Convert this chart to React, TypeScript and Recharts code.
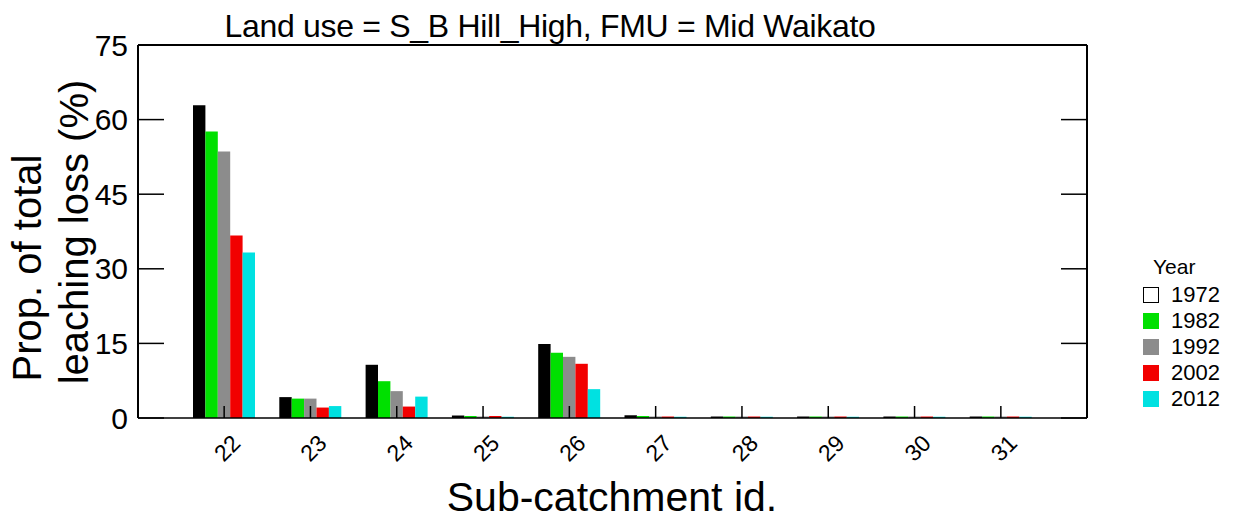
import { Bar, BarChart, Legend, ReferenceLine, XAxis, YAxis } from "recharts"

const subCatchments = ["22", "23", "24", "25", "26", "27", "28", "29", "30", "31"]
const years = ["1972", "1982", "1992", "2002", "2012"]
const yearColors = ["#000000", "#00e000", "#8c8c8c", "#f20000", "#00e1e1"]
const yTicks = [0, 15, 30, 45, 60, 75]

const y1972 = [62.9, 4.2, 10.7, 0.5, 14.9, 0.55, 0.3, 0.3, 0.3, 0.3]
const y1982 = [57.6, 3.9, 7.4, 0.4, 13.1, 0.4, 0.3, 0.3, 0.3, 0.3]
const y1992 = [53.6, 3.9, 5.4, 0.3, 12.3, 0.3, 0.3, 0.3, 0.3, 0.3]
const y2002 = [36.7, 2.1, 2.3, 0.4, 10.9, 0.3, 0.3, 0.3, 0.3, 0.3]
const y2012 = [33.3, 2.4, 4.3, 0.25, 5.8, 0.25, 0.25, 0.25, 0.25, 0.25]

const seriesValues = [y1972, y1982, y1992, y2002, y2012]

const data = subCatchments.map((id, i) => {
  const row: Record<string, string | number> = { id }
  years.forEach((y, k) => {
    row[y] = seriesValues[k][i]
  })
  return row
})

const FONT = "'Liberation Sans', Arial, sans-serif"
const W = 1234
const H = 520
const MARGIN = { top: 45, right: 147, left: 0, bottom: 0 }
const PLOT_RIGHT = W - MARGIN.right

function XTick({ x, y, payload }: any) {
  return (
    <text
      x={x + 3}
      y={y}
      transform={`rotate(-45, ${x + 3}, ${y})`}
      textAnchor="middle"
      dominantBaseline="central"
      fontSize={23}
      fontFamily={FONT}
      fill="#000"
    >
      {payload.value}
    </text>
  )
}

// label on the left plus the mirrored inward tick on the right border
function YTick({ x, y, payload }: any) {
  return (
    <g>
      <text x={x} y={y} textAnchor="end" dominantBaseline="central" fontSize={30} fontFamily={FONT} fill="#000">
        {payload.value}
      </text>
      <line x1={PLOT_RIGHT - 26} x2={PLOT_RIGHT} y1={y} y2={y} stroke="#000" strokeWidth={1.5} />
    </g>
  )
}

function YLabel() {
  return (
    <g fontFamily={FONT} fontSize={40} fill="#000">
      <text x={27} y={268} transform="rotate(-90, 27, 268)" textAnchor="middle" dominantBaseline="central">
        Prop. of total
      </text>
      <text x={74} y={232} transform="rotate(-90, 74, 232)" textAnchor="middle" dominantBaseline="central">
        leaching loss (%)
      </text>
    </g>
  )
}

function XLabel() {
  return (
    <text x={612} y={497} textAnchor="middle" dominantBaseline="central" fontSize={41} fontFamily={FONT} fill="#000">
      Sub-catchment id.
    </text>
  )
}

function YearLegend({ payload }: any) {
  return (
    <div style={{ fontFamily: FONT, color: "#000" }}>
      <div style={{ fontSize: 21, marginLeft: 10, height: 30, lineHeight: "30px" }}>Year</div>
      {(payload || []).map((p: any, i: number) => (
        <div key={p.value} style={{ display: "flex", alignItems: "center", height: 26 }}>
          <span
            style={{
              display: "inline-block",
              width: 14,
              height: 14,
              background: i === 0 ? "#fff" : p.color,
              border: i === 0 ? "1.5px solid #000" : `1.5px solid ${p.color}`,
              marginRight: 12,
            }}
          />
          <span style={{ fontSize: 22 }}>{p.value}</span>
        </div>
      ))}
    </div>
  )
}

export default function App() {
  return (
    <div style={{ position: "absolute", left: 0, top: 0, width: W, height: H, background: "#fff" }}>
      <div
        style={{
          position: "absolute",
          left: 0,
          width: 1100,
          top: 7,
          textAlign: "center",
          fontFamily: FONT,
          fontSize: 32,
          lineHeight: "38px",
          color: "#000",
          letterSpacing: -0.3,
        }}
      >
        Land use = S_B Hill_High, FMU = Mid Waikato
      </div>
      <BarChart width={W} height={H} data={data} margin={MARGIN} barGap={0} barSize={12.4}>
        <XAxis
          dataKey="id"
          height={102}
          padding={{ left: 43, right: 43 }}
          tickSize={-12}
          tickMargin={42}
          tick={<XTick />}
          axisLine={{ stroke: "#000", strokeWidth: 1.5 }}
          tickLine={{ stroke: "#000", strokeWidth: 1.5 }}
          interval={0}
          label={<XLabel />}
        />
        <YAxis
          width={138}
          domain={[0, 75]}
          ticks={yTicks}
          interval={0}
          tickSize={-26}
          tickMargin={36}
          tick={<YTick />}
          axisLine={{ stroke: "#000", strokeWidth: 2 }}
          tickLine={{ stroke: "#000", strokeWidth: 1.5 }}
          label={<YLabel />}
        />
        <ReferenceLine y={75} stroke="#000" strokeWidth={2} />
        <Legend
          layout="vertical"
          align="center"
          verticalAlign="middle"
          content={<YearLegend />}
          wrapperStyle={{ left: 1143, top: 252, width: 90 }}
        />
        {years.map((y, k) => (
          <Bar key={y} dataKey={y} fill={yearColors[k]} isAnimationActive={false} />
        ))}
        <line x1={PLOT_RIGHT} x2={PLOT_RIGHT} y1={MARGIN.top} y2={H - 102} stroke="#000" strokeWidth={2} />
      </BarChart>
    </div>
  )
}
